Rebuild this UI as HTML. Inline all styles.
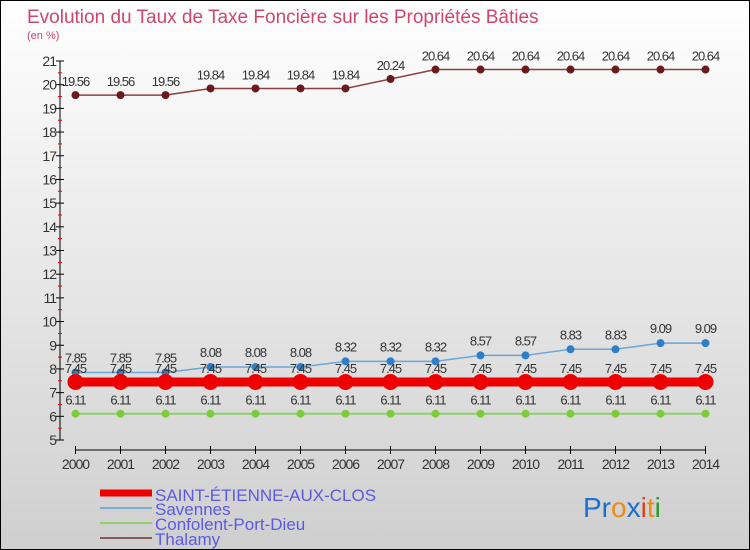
<!DOCTYPE html>
<html><head><meta charset="utf-8"><style>
body{margin:0}
#c{position:relative;width:750px;height:550px;overflow:hidden;font-family:"Liberation Sans",sans-serif}
</style></head><body>
<div id="c">
<svg width="750" height="550" xmlns="http://www.w3.org/2000/svg" id="svg">
<defs><linearGradient id="bg" x1="0" y1="0" x2="0" y2="1"><stop offset="0" stop-color="#ffffff"/><stop offset="1" stop-color="#cfcfcf"/></linearGradient></defs>
<rect x="0.5" y="0.5" width="749" height="549" fill="url(#bg)" stroke="#000"/>
<text x="27" y="23" font-size="19" fill="#d0456a">Evolution du Taux de Taxe Foncière sur les Propriétés Bâties</text>
<text x="27" y="39" font-size="11" fill="#d0456a">(en %)</text>
<g id="axes"></g><g id="series"></g>
<g>
<line x1="100" y1="493" x2="152" y2="493" stroke="#ee0000" stroke-width="7"/>
<text x="155" y="501" font-size="17" fill="#5a5ae6">SAINT-ÉTIENNE-AUX-CLOS</text>
<line x1="100" y1="508" x2="152" y2="508" stroke="#7aaed0" stroke-width="2"/>
<text x="155" y="515" font-size="17" fill="#5a5ae6">Savennes</text>
<line x1="100" y1="523" x2="152" y2="523" stroke="#8fd06a" stroke-width="2"/>
<text x="155" y="530" font-size="17" fill="#5a5ae6">Confolent-Port-Dieu</text>
<line x1="100" y1="538" x2="152" y2="538" stroke="#8a5a5a" stroke-width="2"/>
<text x="155" y="545" font-size="17" fill="#5a5ae6">Thalamy</text>
</g>
<g font-size="28" font-family="'Liberation Sans',sans-serif">
<text x="583" y="517"><tspan fill="#1a6fd0">Pr</tspan><tspan fill="#f08a10">o</tspan><tspan fill="#1a6fd0">x</tspan><tspan fill="#e04020">i</tspan><tspan fill="#f08a10">t</tspan><tspan fill="#2a9a30">i</tspan></text>
</g>
</svg>
</div>
<script>
const years=[2000,2001,2002,2003,2004,2005,2006,2007,2008,2009,2010,2011,2012,2013,2014];
const yTicks=[5,6,7,8,9,10,11,12,13,14,15,16,17,18,19,20,21];
const saint=[7.45,7.45,7.45,7.45,7.45,7.45,7.45,7.45,7.45,7.45,7.45,7.45,7.45,7.45,7.45];
const savennes=[7.85,7.85,7.85,8.08,8.08,8.08,8.32,8.32,8.32,8.57,8.57,8.83,8.83,9.09,9.09];
const confolent=[6.11,6.11,6.11,6.11,6.11,6.11,6.11,6.11,6.11,6.11,6.11,6.11,6.11,6.11,6.11];
const thalamy=[19.56,19.56,19.56,19.84,19.84,19.84,19.84,20.24,20.64,20.64,20.64,20.64,20.64,20.64,20.64];
const NS="http://www.w3.org/2000/svg";
const X=i=>75.5+i*45;
const Y=v=>440-(v-5)*(379/16);
function mk(tag,attrs,parent){const e=document.createElementNS(NS,tag);for(const k in attrs)e.setAttribute(k,attrs[k]);parent.appendChild(e);return e;}
const ax=document.getElementById('axes');
let l=mk('line',{x1:60,y1:Y(21),x2:60,y2:Y(5),stroke:'#000'},ax);


yTicks.forEach(t=>{
  mk('line',{x1:56,y1:Y(t),x2:64,y2:Y(t),stroke:'#000'},ax);
  if(t<21) mk('line',{x1:58,y1:Y(t+0.5),x2:62,y2:Y(t+0.5),stroke:'#e00'},ax);
  const tx=mk('text',{x:56,y:Y(t)+5,'font-size':14,'text-anchor':'end',fill:'#333','letter-spacing':'-1'},ax);
  tx.textContent=t;
  
  
});
l=mk('line',{x1:X(0),y1:450,x2:X(14),y2:450,stroke:'#000'},ax);


years.forEach((y,i)=>{
  mk('line',{x1:X(i),y1:446,x2:X(i),y2:454,stroke:'#000'},ax);
  const tx=mk('text',{x:X(i),y:469,'font-size':14,'text-anchor':'middle',fill:'#333','letter-spacing':'-1'},ax);
  tx.textContent=y;
  
  
});
const sg=document.getElementById('series');
function series(name,data,color,w,r,fill,lblOff){
  const g=mk('g',{},sg);
  
  
  mk('polyline',{points:data.map((v,i)=>X(i)+','+Y(v)).join(' '),fill:'none',stroke:color,'stroke-width':w},g);
  data.forEach((v,i)=>{
    const c=mk('circle',{cx:X(i),cy:Y(v),r:r,fill:fill},g);
    
    
    const t=mk('text',{x:X(i),y:Y(v)+lblOff,'font-size':13,'text-anchor':'middle',fill:'#333','letter-spacing':'-1'},g);
    t.textContent=(Math.round(v*100)/100).toString();
    
    
  });
}
series('thalamy',thalamy,'#8a4040',1.5,4,'#6a1a1a',-9);
series('confolent',confolent,'#8fd06a',2,4,'#7ccc3a',-9);
series('savennes',savennes,'#6aa6d8',1.5,4,'#2f7fc8',-10);
series('saint-etienne',saint,'#ee0000',9,8,'#ee0000',-9);
</script>
</body></html>
